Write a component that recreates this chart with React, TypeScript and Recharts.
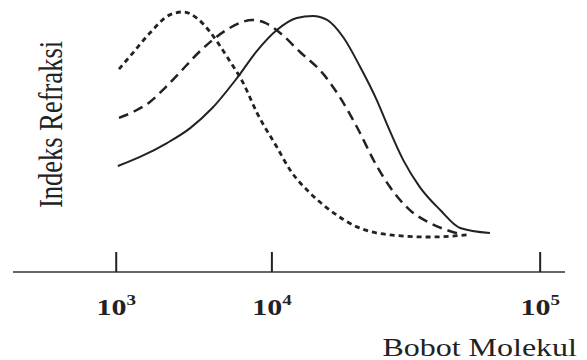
import { LineChart, Line, XAxis, YAxis } from "recharts";

// x is position along the drawn axis (0..100), y is relative refractive index (0..100)
const tickValues = [18.7, 46.9, 95.5];
const tickExponents = ["3", "4", "5"];

const dottedX = [19.2, 21.7, 24.8, 28.4, 30.8, 33.3, 35.7, 38.8, 41.7, 44.2, 47.8, 50.2, 53.8, 57.4, 62.3, 68.3, 75.5, 82.2];
const dottedY = [76.0, 82.0, 89.5, 96.3, 97.4, 95.1, 89.9, 80.5, 70.8, 59.6, 46.8, 38.2, 29.6, 23.2, 16.9, 13.9, 13.1, 13.9];

const dashedX = [19.2, 22.1, 24.8, 27.5, 30.3, 33.0, 35.7, 38.4, 41.1, 43.3, 45.7, 48.4, 52.0, 56.2, 59.2, 62.3, 65.9, 68.3, 71.9, 75.5, 78.6, 81.5];
const dashedY = [57.7, 60.3, 63.7, 68.9, 74.9, 80.9, 86.1, 90.3, 93.3, 94.4, 93.3, 89.5, 82.4, 74.2, 65.5, 54.3, 39.7, 31.8, 23.2, 18.4, 15.7, 13.9];

const solidX = [19.0, 23.0, 27.9, 32.1, 36.1, 40.6, 44.2, 47.8, 51.4, 54.3, 56.9, 59.8, 62.9, 65.9, 67.8, 70.7, 73.7, 77.4, 81.0, 86.4];
const solidY = [39.7, 43.1, 48.3, 53.9, 61.4, 72.7, 82.8, 90.6, 95.1, 95.9, 94.4, 88.0, 76.8, 64.4, 55.1, 41.9, 31.8, 23.2, 16.5, 14.6];

const toPoints = (xs: number[], ys: number[]) => xs.map((x, i) => ({ x, y: ys[i] }));

const dotted = toPoints(dottedX, dottedY);
const dashed = toPoints(dashedX, dashedY);
const solid = toPoints(solidX, solidY);

const INK = "#222";
const SERIF = "'Liberation Serif', 'Times New Roman', serif";

const PowerTick = (props: any) => {
  const { x, y, index } = props;
  return (
    <g>
      <line x1={x} y1={y - 20} x2={x} y2={y} stroke={INK} strokeWidth={2} />
      <text
        transform={`translate(${x},${y + 43}) scale(1,0.8)`}
        textAnchor="middle"
        fontFamily={SERIF}
        fontWeight="bold"
        fontSize={30}
        fill={INK}
      >
        10
        <tspan fontSize={19} dy={-12}>{tickExponents[index]}</tspan>
      </text>
    </g>
  );
};

export default function App() {
  return (
    <div style={{ position: "absolute", left: 0, top: 0, width: 587, height: 360, background: "#fff" }}>
      <LineChart width={587} height={360} margin={{ top: 5, right: 22, left: 13, bottom: 58 }}>
        <XAxis
          dataKey="x"
          type="number"
          domain={[0, 100]}
          ticks={tickValues}
          height={30}
          tickSize={0}
          tickMargin={0}
          tickLine={false}
          tick={<PowerTick />}
          axisLine={{ stroke: "#333", strokeWidth: 1.5 }}
        />
        <YAxis type="number" domain={[0, 100]} hide />
        <Line
          data={dotted}
          dataKey="y"
          type="monotone"
          stroke={INK}
          strokeWidth={2.8}
          strokeDasharray="5 4"
          dot={false}
          isAnimationActive={false}
        />
        <Line
          data={dashed}
          dataKey="y"
          type="monotone"
          stroke={INK}
          strokeWidth={2.5}
          strokeDasharray="10 6"
          dot={false}
          isAnimationActive={false}
        />
        <Line
          data={solid}
          dataKey="y"
          type="monotone"
          stroke={INK}
          strokeWidth={2}
          dot={false}
          isAnimationActive={false}
        />
      </LineChart>
      {/* axis titles, drawn squeezed vertically like the scanned figure */}
      <svg width={587} height={360} style={{ position: "absolute", left: 0, top: 0, pointerEvents: "none" }}>
        <text
          transform="translate(62,124.5) scale(1,0.78) rotate(-90)"
          textAnchor="middle"
          fontFamily={SERIF}
          fontSize={34}
          fill={INK}
        >
          Indeks Refraksi
        </text>
        <text
          transform="translate(577,356) scale(1,0.82)"
          textAnchor="end"
          fontFamily={SERIF}
          fontSize={32}
          fill={INK}
        >
          Bobot Molekul
        </text>
      </svg>
    </div>
  );
}
